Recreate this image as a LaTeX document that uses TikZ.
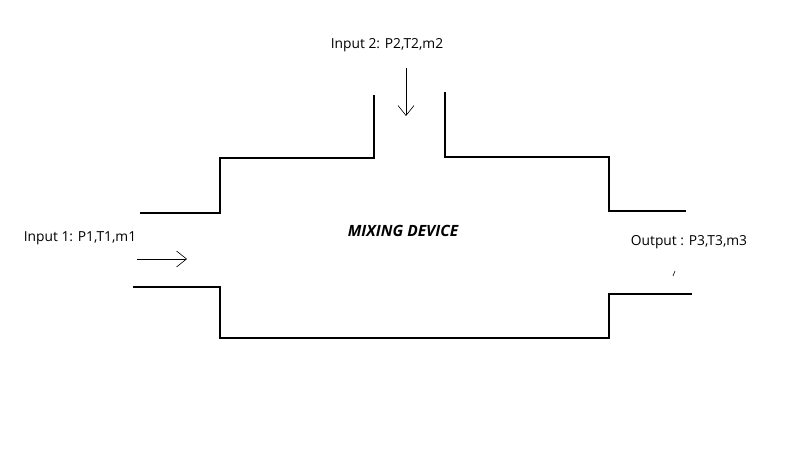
\documentclass[tikz,border=0pt]{standalone}
\usepackage{fontspec}
\setmainfont{Open Sans}
\usetikzlibrary{arrows.meta}
\begin{document}
\begin{tikzpicture}[x=1pt,y=-1pt,
  wall/.style={line width=2.6pt,line join=miter},
  flow/.style={line width=0.6pt,-{Straight Barb[length=10pt,width=16pt]}},
  lbl/.style={font=\fontsize{13.8}{16}\selectfont,inner sep=0pt}]
\useasboundingbox (0,0) rectangle (800,449);
\fill[white] (0,0) rectangle (800,449);
\draw[wall] (140,213) -- (220,213) -- (220,158) -- (374,158) -- (374,95);
\draw[wall] (445,92) -- (445,157) -- (609,157) -- (609,211) -- (686,211);
\draw[wall] (133,287) -- (220,287) -- (220,338) -- (609,338) -- (609,294) -- (692,294);
\coordinate (a1) at (406,68); \coordinate (a2) at (406,116);
\draw[flow] (a1) -- (a2);
\coordinate (b1) at (137,259); \coordinate (b2) at (187,259);
\draw[flow] (b1) -- (b2);
\coordinate (t1) at (675,271); \coordinate (t2) at (673,276);
\draw[line width=0.6pt] (t1) -- (t2);
\node[lbl] (in2) at (387,45) {Input 2: P2,T2,m2};
\node[lbl] (in1) at (80,238) {Input 1: P1,T1,m1};
\node[lbl,font=\fontsize{15.5}{17}\selectfont\bfseries\itshape] (md) at (403,231) {MIXING DEVICE};
\node[lbl] (out) at (689,242) {Output : P3,T3,m3};
\end{tikzpicture}
\end{document}
